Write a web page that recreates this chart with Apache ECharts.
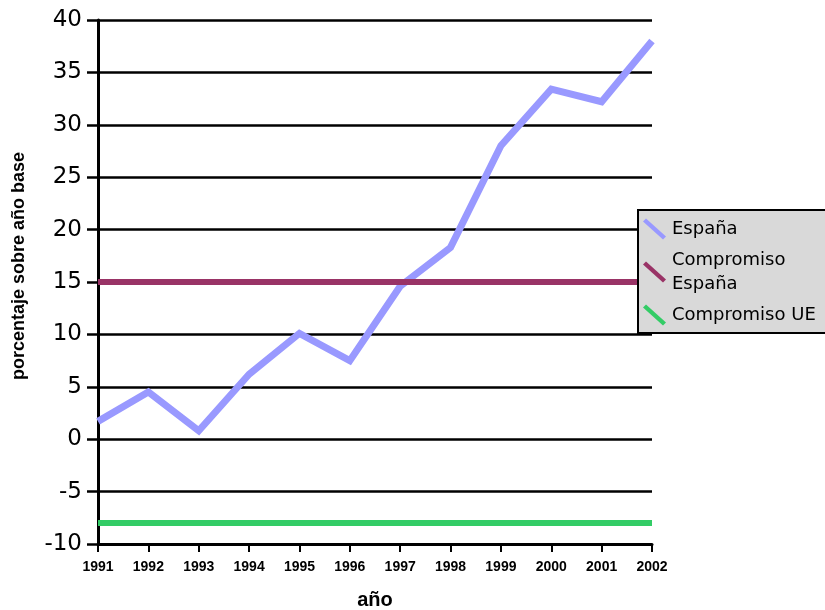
<!DOCTYPE html>
<html>
<head>
<meta charset="utf-8">
<script src="https://cdn.jsdelivr.net/npm/echarts@6/dist/echarts.min.js"></script>
<style>
  html, body { margin: 0; padding: 0; background: #fff; }
  #chart { width: 825px; height: 610px; }
</style>
</head>
<body>
<div id="chart"></div>
<script>
// Emisiones respecto al año base (%), 1991-2002
const years = ['1991', '1992', '1993', '1994', '1995', '1996', '1997', '1998', '1999', '2000', '2001', '2002'];
const espana = [1.7, 4.5, 0.8, 6.2, 10.1, 7.5, 14.6, 18.3, 28.0, 33.4, 32.2, 38.0];
const compromisoEspana = [15, 15, 15, 15, 15, 15, 15, 15, 15, 15, 15, 15];
const compromisoUE = [-8, -8, -8, -8, -8, -8, -8, -8, -8, -8, -8, -8];
const yTicks = { min: -10, max: 40, step: 5 };

const chart = echarts.init(document.getElementById('chart'), null, { renderer: 'canvas' });

function lineSeries(name, data, color, width) {
  return {
    name: name,
    type: 'line',
    data: data,
    showSymbol: false,
    symbol: 'none',
    lineStyle: { color: color, width: width, cap: 'butt', join: 'miter' },
    itemStyle: { color: color },
    emphasis: { disabled: true }
  };
}

chart.setOption({
  animation: false,
  backgroundColor: '#ffffff',
  grid: { left: 98, right: 173, top: 20, bottom: 66, containLabel: false, outerBoundsMode: 'none' },
  legend: {
    orient: 'vertical',
    left: 638,
    top: 210,
    backgroundColor: '#d9d9d9',
    borderColor: '#000',
    borderWidth: 2,
    borderRadius: 0,
    padding: [7, 12, 6, 5],
    itemGap: 7,
    itemWidth: 23,
    itemHeight: 21,
    icon: 'path://M0,3 L3,0 L23,18 L20,21 Z',
    itemStyle: { borderWidth: 0 },
    selectedMode: false,
    textStyle: { fontFamily: 'DejaVu Sans', fontSize: 18, color: '#000', lineHeight: 24, padding: [0, 0, 0, 1] },
    formatter: function (name) {
      return name === 'Compromiso España' ? 'Compromiso\nEspaña' : name;
    },
    data: ['España', 'Compromiso España', 'Compromiso UE']
  },
  xAxis: {
    type: 'category',
    data: years,
    boundaryGap: false,
    name: 'año',
    nameLocation: 'middle',
    nameGap: 46,
    nameTextStyle: { fontFamily: 'Liberation Sans', fontWeight: 'bold', fontSize: 20, color: '#000' },
    axisLine: { onZero: false, lineStyle: { color: '#000', width: 3 } },
    axisTick: { show: true, length: 8, lineStyle: { color: '#000', width: 2 } },
    axisLabel: {
      color: '#000', margin: 16,
      fontFamily: 'Liberation Sans', fontWeight: 'bold', fontSize: 14
    },
    splitLine: { show: false }
  },
  yAxis: {
    type: 'value',
    min: yTicks.min,
    max: yTicks.max,
    interval: yTicks.step,
    name: 'porcentaje sobre año base',
    nameLocation: 'middle',
    nameGap: 70,
    nameTextStyle: {
      fontFamily: 'Liberation Sans', fontWeight: 'bold', fontSize: 18, color: '#000',
      padding: [0, 0, 0, 32]
    },
    axisLine: { show: true, lineStyle: { color: '#000', width: 3 } },
    axisTick: { show: true, length: 11, lineStyle: { color: '#000', width: 2.5 } },
    axisLabel: { color: '#000', margin: 16, fontFamily: 'DejaVu Sans', fontSize: 23 },
    splitLine: { show: true, lineStyle: { color: '#000', width: 2.5 } }
  },
  series: [
    lineSeries('España', espana, '#9999ff', 7),
    lineSeries('Compromiso España', compromisoEspana, '#993366', 6),
    lineSeries('Compromiso UE', compromisoUE, '#33cc66', 6)
  ]
});
</script>
</body>
</html>
